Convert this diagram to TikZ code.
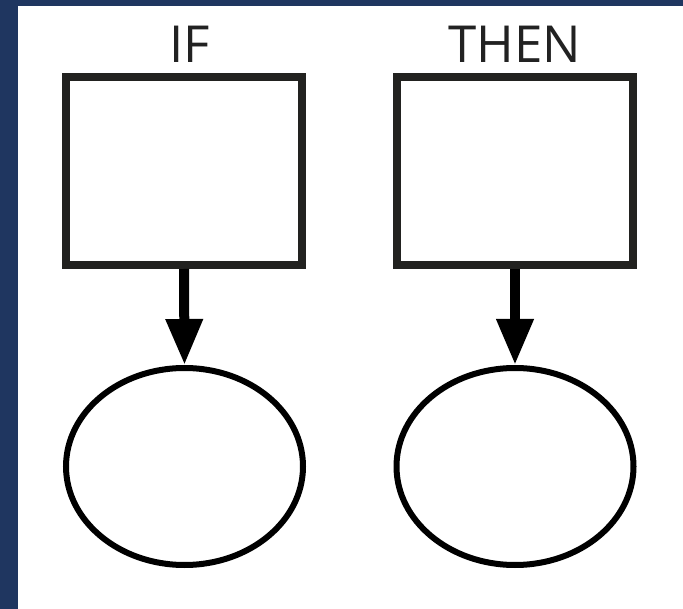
\documentclass[tikz,border=0pt]{standalone}
\usepackage{fontspec}
\setmainfont{Open Sans}
\usetikzlibrary{arrows.meta,shapes.geometric}
\definecolor{frameblue}{RGB}{31,54,96}
\definecolor{boxline}{RGB}{34,34,32}
\definecolor{labelgrey}{RGB}{34,34,34}
\tikzset{
  condbox/.style={draw=boxline, line width=8pt, rectangle, minimum width=236pt, minimum height=188pt, inner sep=0pt, fill=white},
  resultell/.style={draw=black, line width=6pt, ellipse, minimum width=237pt, minimum height=197pt, inner sep=0pt, fill=white},
  headlabel/.style={text=labelgrey, font=\fontsize{51pt}{51pt}\selectfont, inner sep=0pt, anchor=base},
  flowarrow/.style={draw=black, line width=10pt, -{Triangle[length=46pt,width=35pt]}}
}
\begin{document}
\begin{tikzpicture}[x=1pt,y=-1pt]
  % page frame: dark band on top and left, white panel
  \fill[frameblue] (0,0) rectangle (683,609);
  \fill[white] (18,6) rectangle (683,609);
  \useasboundingbox (0,0) rectangle (683,609);

  % headings
  \node[headlabel] (iflabel) at (190,63) {IF};
  \node[headlabel] (thenlabel) at (515,63) {THEN};

  % condition and result boxes
  \node[condbox] (ifbox) at (184,171) {};
  \node[condbox] (thenbox) at (515,171) {};
  \node[resultell] (ifell) at (184.5,466.5) {};
  \node[resultell] (thenell) at (515,466.5) {};

  % connectors
  \draw[flowarrow] (ifbox.south) -- (ifell.north);
  \draw[flowarrow] (thenbox.south) -- (thenell.north);
\end{tikzpicture}
\end{document}
